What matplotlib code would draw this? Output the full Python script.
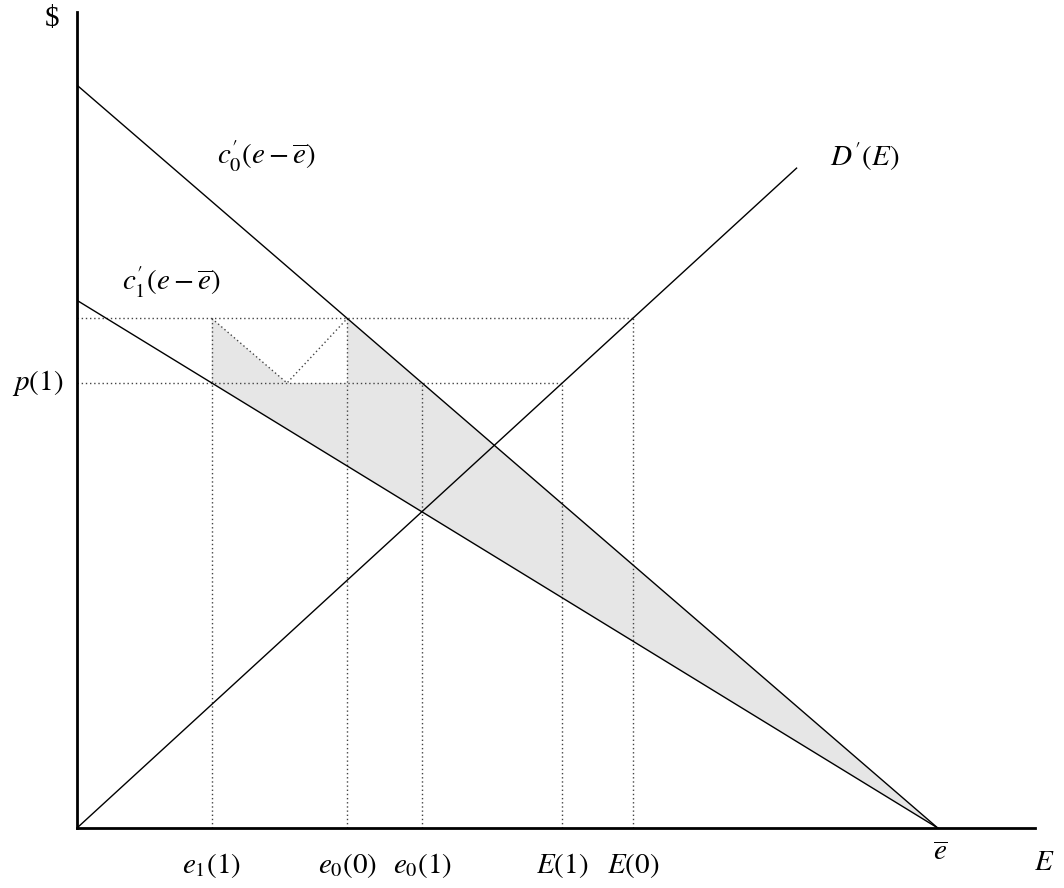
import numpy as np
import matplotlib.pyplot as plt

plt.rcParams['font.family'] = ['Liberation Serif', 'DejaVu Serif']
plt.rcParams['mathtext.fontset'] = 'stix'

# model values (one unit = ebar / 100)
e_bar = 100.0
c0_int = 86.3      # c0'(e - ebar) at e = 0
c1_int = 61.3      # c1'(e - ebar) at e = 0
d_slope = 0.917    # slope of D'(E)
d_end = 83.6       # where the D'(E) line stops
p0 = 59.2          # upper dotted price level
p1 = 51.7          # p(1)
kink_x = 24.4      # bottom of the dotted "V"

x_max, y_max = 111.3, 94.8


def c0(e):
    return c0_int * (1 - e / e_bar)


def c1(e):
    return c1_int * (1 - e / e_bar)


e1_1 = e_bar * (1 - p1 / c1_int)
e0_0 = e_bar * (1 - p0 / c0_int)
e0_1 = e_bar * (1 - p1 / c0_int)
E_1 = p1 / d_slope
E_0 = p0 / d_slope

fig = plt.figure(figsize=(10.64, 8.88), dpi=100)
ax = fig.add_axes([77 / 1064, 60 / 888, 958 / 1064, 816 / 888])
ax.set_xlim(0, x_max)
ax.set_ylim(0, y_max)
for s in ['top', 'right']:
    ax.spines[s].set_visible(False)
for s in ['left', 'bottom']:
    ax.spines[s].set_linewidth(2)
ax.set_xticks([])
ax.set_yticks([])

# shaded area
top_x = np.linspace(e0_0, e_bar, 50)
bot_x = np.linspace(e_bar, e1_1, 50)
poly_x = [e1_1, kink_x, e0_0, e0_0] + list(top_x) + list(bot_x)
poly_y = [p0, p1, p1, p0] + list(c0(top_x)) + list(c1(bot_x))
ax.fill(poly_x, poly_y, color='#e6e6e6', lw=0, zorder=1)

# main lines
ee = np.array([0, e_bar])
ax.plot(ee, c0(ee), color='black', lw=1, zorder=3)
ax.plot(ee, c1(ee), color='black', lw=1, zorder=3)
ax.plot([0, d_end], [0, d_slope * d_end], color='black', lw=1, zorder=3)

# dotted guides
dot = dict(color='#444444', lw=1, linestyle=(0, (1, 2)), zorder=2)
ax.plot([0, E_0], [p0, p0], **dot)
ax.plot([0, E_1], [p1, p1], **dot)
for xv, top in [(e1_1, p0), (e0_0, p0), (e0_1, p1), (E_1, p1), (E_0, p0)]:
    ax.plot([xv, xv], [0, top], **dot)
ax.plot([e1_1, kink_x, e0_0], [p0, p1, p0], **dot)

fs = 21
txt = dict(ha='center', va='center', fontsize=fs, clip_on=False)
lab_y = -4.4
ax.text(e1_1, lab_y, r'$e_1(1)$', **txt)
ax.text(e0_0, lab_y, r'$e_0(0)$', **txt)
ax.text(e0_1, lab_y, r'$e_0(1)$', **txt)
ax.text(E_1, lab_y, r'$E(1)$', **txt)
ax.text(E_0, lab_y, r'$E(0)$', **txt)
ax.text(e_bar + 0.3, -2.9, r'$\overline{e}$', **txt)
ax.text(112.4, -4.1, r'$E$', **txt)
ax.text(-2.9, y_max - 0.8, r'\$', **txt)
ax.text(-4.6, p1, r'$p(1)$', **txt)

ax.text(22.0, 78.0, r"$c_0^{\prime}(e-\overline{e})$", **txt)
ax.text(10.9, 63.4, r"$c_1^{\prime}(e-\overline{e})$", **txt)
ax.text(91.5, 78.0, r"$D^{\prime}(E)$", **txt)

fig.savefig('out.png', dpi=100)
